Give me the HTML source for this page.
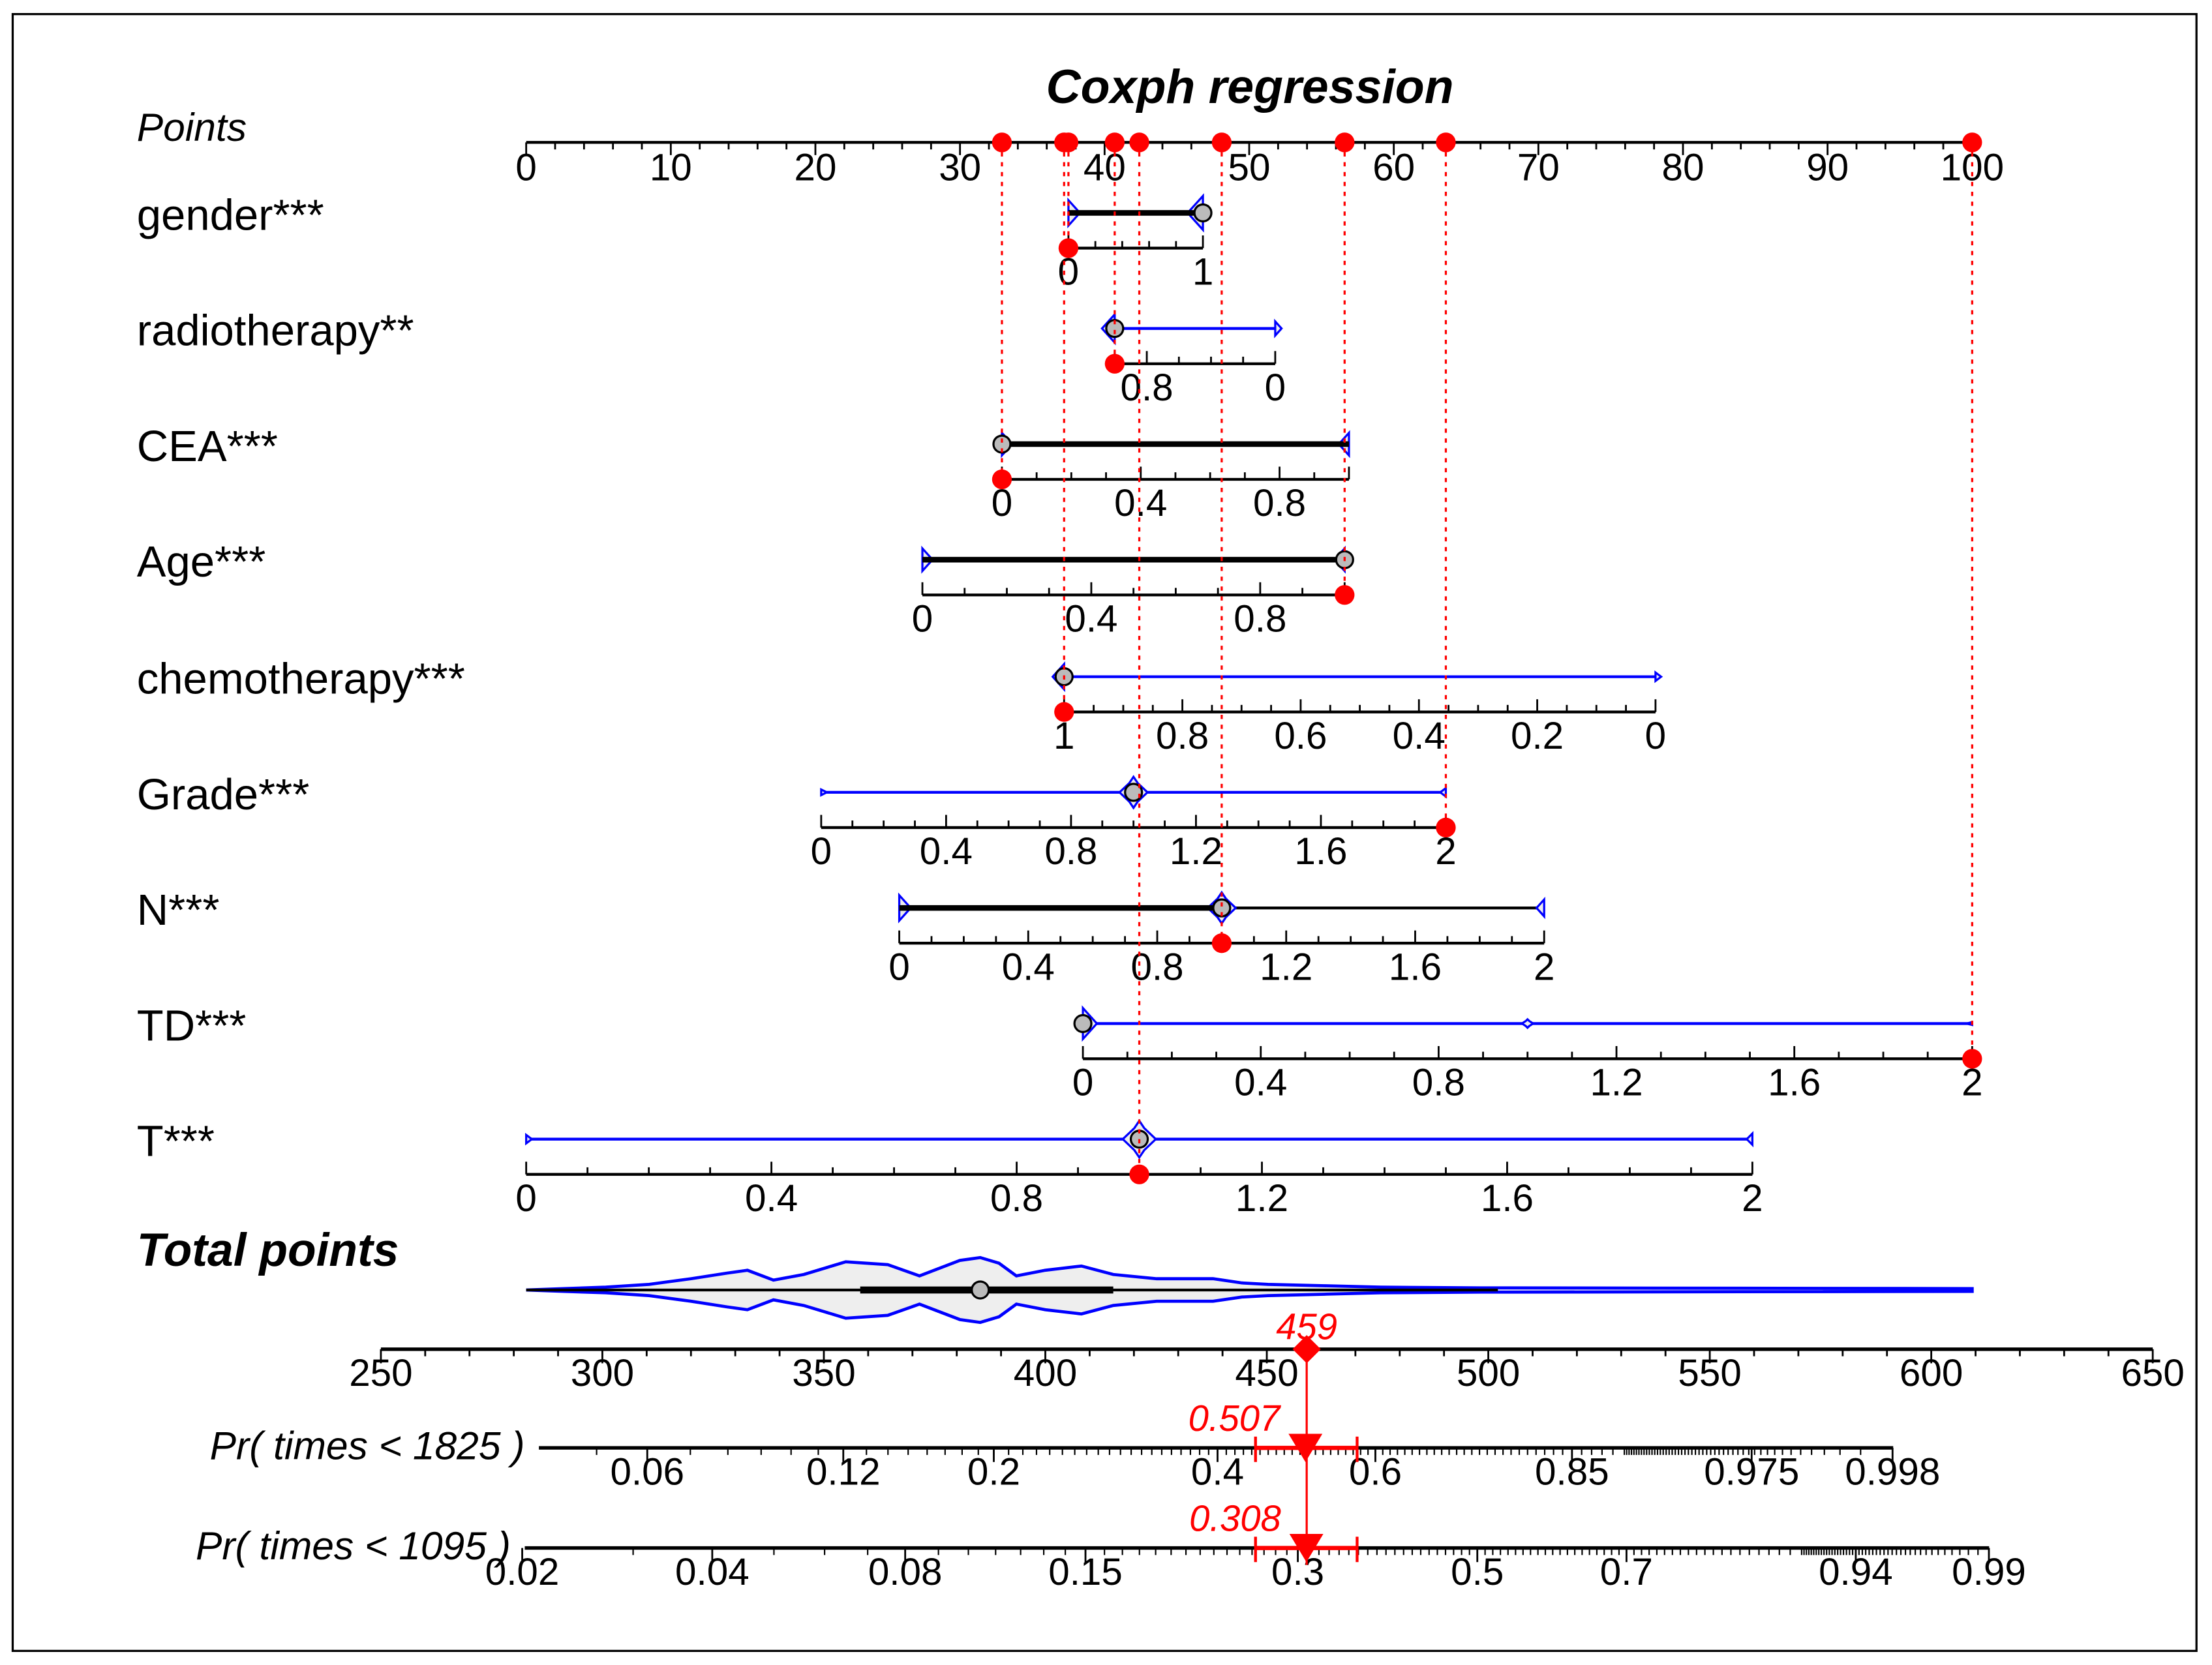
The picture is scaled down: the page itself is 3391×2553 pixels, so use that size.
<!DOCTYPE html>
<html><head><meta charset="utf-8"><style>html,body{margin:0;padding:0;background:#fff}svg{display:block}text{font-family:"Liberation Sans",sans-serif}</style></head>
<body>
<svg id="chart" xmlns="http://www.w3.org/2000/svg" width="3391" height="2553" viewBox="0 0 1568 1181" preserveAspectRatio="none">
<rect x="9" y="10" width="1548" height="1161" fill="#fff" stroke="#000" stroke-width="1.5"/>
<text x="886" y="73" font-size="34" font-weight="bold" font-style="italic" text-anchor="middle">Coxph regression</text>
<text x="97" y="100" font-size="28" font-style="italic">Points</text>
<text x="97" y="898" font-size="33" font-weight="bold" font-style="italic">Total points</text>
<g id="g"></g>
</svg>
<script>
// Points scale
const ptsTicks = [0,10,20,30,40,50,60,70,80,90,100];
// Variables
const varNames = ["gender***","radiotherapy**","CEA***","Age***","chemotherapy***","Grade***","N***","TD***","T***"];
const varRowY = [151,233,315,397,480,562,644,726,808];
const varMinVal = [0,1,0,0,1,0,0,0,0];
const varMaxVal = [1,0,1,1,0,2,2,2,2];
const varPtsAtMin = [37.5,40.7,32.9,27.4,37.2,20.4,25.8,38.5,0];
const varPtsAtMax = [46.8,51.8,56.9,56.6,78.1,63.6,70.4,100,84.8];
const varTickLabels = [["0","1"],["0.8","0"],["0","0.4","0.8"],["0","0.4","0.8"],["1","0.8","0.6","0.4","0.2","0"],["0","0.4","0.8","1.2","1.6","2"],["0","0.4","0.8","1.2","1.6","2"],["0","0.4","0.8","1.2","1.6","2"],["0","0.4","0.8","1.2","1.6","2"]];
const varMinorStep = [0.2,0.2,0.1,0.1,0.05,0.1,0.1,0.1,0.1];
const varSelected = [0,1,0,1,1,2,1,2,1];
const varMedian = [1,1,0,1,1,1,1,0,1];
const varBoxFrom = [0,null,0,0,null,null,0,null,null];
const varBoxTo = [1,null,1,1,null,null,1,null,null];
const varLineColor = ["#000","#00f","#000","#000","#00f","#00f","#000","#00f","#00f"];
// violin blobs: [value, halfHeight]
const varBlobs = [[[0,9],[1,12]],[[1,10],[0,5]],[[0,8],[1,8]],[[0,8],[1,8]],[[1,9],[0,3]],[[0,2],[1,11],[2,3]],[[0,9],[1,11],[2,6]],[[0,11],[1,3],[2,1]],[[0,3],[1,13],[2,4]]];
// Total points
const totTicks = [250,300,350,400,450,500,550,600,650];
const totalValue = 459;
const densityPts = [0,2.6,5.5,8.5,11.4,13.9,15.3,17.1,19.2,22.1,25,27.2,30,31.4,32.7,33.9,35.9,38.4,40.6,43.6,47.5,49.5,51.3,55.2,59.1,66,67.8,100];
const densityH = [0,1,2,4,8,12,14,7,11,20,18,10,21,23,19,10,14,17,11,8,8,5,4,3,2,1.5,1.5,1];
const totalMedianPts = 31.4, totalBoxPts = [23.1,40.6], totalThinEndPts = 67.2;
// Probability axes
const p1825Labels = ["0.06","0.12","0.2","0.4","0.6","0.85","0.975","0.998"];
const p1095Labels = ["0.02","0.04","0.08","0.15","0.3","0.5","0.7","0.94","0.99"];
const p1825Value = 0.507, p1095Value = 0.308;

const NS="http://www.w3.org/2000/svg", G=document.getElementById('g');
function el(tag,attrs,parent){const e=document.createElementNS(NS,tag);for(const k in attrs)e.setAttribute(k,attrs[k]);(parent||G).appendChild(e);return e;}
const px = p => 373 + p*10.25;
const tx = v => 270 + (v-250)*3.14;
const cll = p => Math.log(-Math.log(1-p));
const x1825 = p => 991.7 + 191.5*cll(p);
const x1095 = p => 1117.4 + 191.5*cll(p);
const FS = 27;

// Points axis
const pa=el('g',{});


el('line',{x1:px(0),x2:px(100),y1:101,y2:101,stroke:'#000','stroke-width':2},pa);
for(let v=0;v<=100;v+=2){el('line',{x1:px(v),x2:px(v),y1:101,y2:v%10?106:110,stroke:'#000','stroke-width':1.3},pa);}
ptsTicks.forEach(v=>{const tl=el('text',{x:px(v),y:128,'font-size':FS,'text-anchor':'middle'},pa);tl.textContent=v;});

// Variables
varNames.forEach((n,i)=>{
  const y=varRowY[i], ay=y+25;
  const vx = v => px(varPtsAtMin[i] + (v-varMinVal[i])/(varMaxVal[i]-varMinVal[i])*(varPtsAtMax[i]-varPtsAtMin[i]));
  const row=el('g',{});
  
  
  const lab=el('text',{x:97,y:y+12,'font-size':31},row); lab.textContent=n;
  
  
  const lo=Math.min(varMinVal[i],varMaxVal[i]), hi=Math.max(varMinVal[i],varMaxVal[i]);
  el('line',{x1:vx(lo),x2:vx(hi),y1:y,y2:y,stroke:varLineColor[i],'stroke-width':2},row);
  varBlobs[i].forEach(b=>{
    const cx=vx(b[0]), h=b[1], w=Math.max(4,h*0.9);
    const dir = (b[0]===lo?1:(b[0]===hi?-1:0));
    let pts;
    if(dir===1) pts=`${cx},${y-h} ${cx+w*0.5},${y-h*0.5} ${cx+w},${y} ${cx+w*0.5},${y+h*0.5} ${cx},${y+h}`;
    else if(dir===-1) pts=`${cx},${y-h} ${cx-w*0.5},${y-h*0.5} ${cx-w},${y} ${cx-w*0.5},${y+h*0.5} ${cx},${y+h}`;
    else pts=`${cx-w},${y} ${cx-w*0.3},${y-h*0.6} ${cx},${y-h} ${cx+w*0.3},${y-h*0.6} ${cx+w},${y} ${cx+w*0.3},${y+h*0.6} ${cx},${y+h} ${cx-w*0.3},${y+h*0.6}`;
    const pg=el('polygon',{points:pts,fill:'#eee',stroke:'#00f','stroke-width':1.5},row);
    
    
  });
  if(varBoxFrom[i]!==null){el('line',{x1:vx(varBoxFrom[i]),x2:vx(varBoxTo[i]),y1:y,y2:y,stroke:'#000','stroke-width':4},row);}
  const mc=el('circle',{cx:vx(varMedian[i]),cy:y,r:6,fill:'#bbb',stroke:'#000','stroke-width':1.5},row);
  
  
  el('line',{x1:vx(lo),x2:vx(hi),y1:ay,y2:ay,stroke:'#000','stroke-width':2},row);
  const st=varMinorStep[i];
  for(let k=0;k<=Math.round((hi-lo)/st);k++){const v=lo+k*st;const isLab=varTickLabels[i].some(s=>Math.abs(parseFloat(s)-v)<1e-6)||v===lo||v===hi;el('line',{x1:vx(v),x2:vx(v),y1:ay,y2:ay-(isLab?9:5),stroke:'#000','stroke-width':1.3},row);}
  varTickLabels[i].forEach(s=>{const tl=el('text',{x:vx(parseFloat(s)),y:ay+26,'font-size':FS,'text-anchor':'middle'},row);tl.textContent=s;});
  const sx=vx(varSelected[i]);
  const dl=el('line',{x1:sx,x2:sx,y1:101,y2:ay,stroke:'#f00','stroke-width':1.5,'stroke-dasharray':'3,4'});
  
  
  const d1=el('circle',{cx:sx,cy:ay,r:7,fill:'#f00'});
  
  
  const d2=el('circle',{cx:sx,cy:101,r:7,fill:'#f00'});
  
  
});

// Total points violin
const vy=915;
const topPts=densityPts.map((p,k)=>`${px(p)},${vy-densityH[k]}`);
const botPts=densityPts.map((p,k)=>`${px(p)},${vy+densityH[k]}`).reverse();
const dv=el('polygon',{points:topPts.concat(botPts).join(' '),fill:'#eee',stroke:'#00f','stroke-width':2.2});


el('line',{x1:px(0),x2:px(totalThinEndPts),y1:vy,y2:vy,stroke:'#000','stroke-width':2});
el('line',{x1:px(totalBoxPts[0]),x2:px(totalBoxPts[1]),y1:vy,y2:vy,stroke:'#000','stroke-width':5});
const tm=el('circle',{cx:px(totalMedianPts),cy:vy,r:6,fill:'#bbb',stroke:'#000','stroke-width':1.5});



// Total points axis
const ta=el('g',{});


el('line',{x1:tx(250),x2:tx(650),y1:957,y2:957,stroke:'#000','stroke-width':2.5},ta);
for(let v=250;v<=650;v+=10){el('line',{x1:tx(v),x2:tx(v),y1:957,y2:v%50?962:967,stroke:'#000','stroke-width':1.3},ta);}
totTicks.forEach(v=>{const tl=el('text',{x:tx(v),y:983,'font-size':FS,'text-anchor':'middle'},ta);tl.textContent=v;});

function probAxis(name,y,x0,x1,fx,labels,label,lx){
  const g=el('g',{});
  
  
  el('line',{x1:x0,x2:x1,y1:y,y2:y,stroke:'#000','stroke-width':2.5},g);
  const ps=[];for(let p=0.01;p<0.9;p+=0.01)ps.push(p);for(let p=0.9;p<0.999;p+=0.002)ps.push(p);
  ps.forEach(p=>{const x=fx(p);if(x>=x0&&x<=x1)el('line',{x1:x,x2:x,y1:y,y2:y+5,stroke:'#000','stroke-width':1},g);});
  labels.forEach(s=>{const x=fx(parseFloat(s));el('line',{x1:x,x2:x,y1:y,y2:y+10,stroke:'#000','stroke-width':1.3},g);const tl=el('text',{x:x,y:y+26,'font-size':FS,'text-anchor':'middle'},g);tl.textContent=s;});
  const lt=el('text',{x:lx,y:y+8,'font-size':28,'font-style':'italic','text-anchor':'end'},g);lt.textContent=label;
}
probAxis('prob-1825-axis',1027,382,1342,x1825,p1825Labels,'Pr( times < 1825 )',372);
probAxis('prob-1095-axis',1098,372,1410,x1095,p1095Labels,'Pr( times < 1095 )',362);

const rx=tx(totalValue);
const rg=el('g',{});


el('line',{x1:rx,x2:rx,y1:950,y2:1110,stroke:'#f00','stroke-width':1.5},rg);
el('polygon',{points:`${rx},947 ${rx+10},957 ${rx},967 ${rx-10},957`,fill:'#f00'},rg);
const rt=el('text',{x:rx,y:950,'font-size':26,'font-style':'italic',fill:'#f00','text-anchor':'middle'},rg);rt.textContent=totalValue;
[[1027,x1825(p1825Value),p1825Value.toFixed(3)],[1098,x1095(p1095Value),p1095Value.toFixed(3)]].forEach(a=>{
  const y=a[0], x=a[1];
  el('line',{x1:890,x2:962,y1:y,y2:y,stroke:'#f00','stroke-width':3},rg);
  el('line',{x1:890,x2:890,y1:y-8,y2:y+10,stroke:'#f00','stroke-width':2},rg);
  el('line',{x1:962,x2:962,y1:y-8,y2:y+10,stroke:'#f00','stroke-width':2},rg);
  el('polygon',{points:`${x-12},${y-10} ${x+12},${y-10} ${x},${y+10}`,fill:'#f00'},rg);
  const tt=el('text',{x:x-18,y:y-12,'font-size':26,'font-style':'italic',fill:'#f00','text-anchor':'end'},rg);tt.textContent=a[2];
});
</script>
</body></html>
